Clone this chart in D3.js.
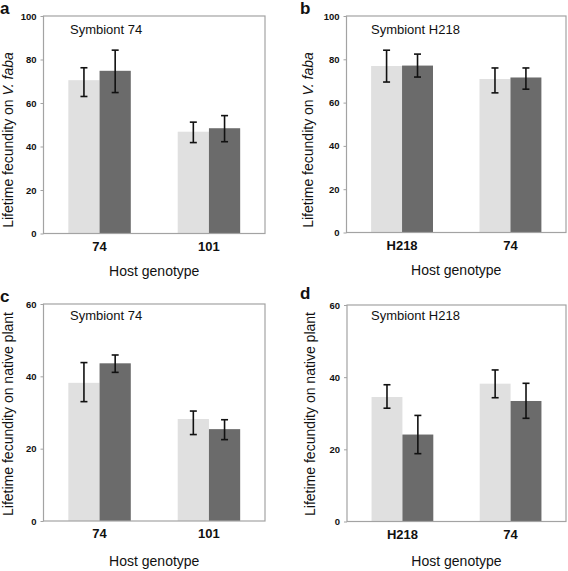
<!DOCTYPE html>
<html><head><meta charset="utf-8">
<script src="https://cdn.jsdelivr.net/npm/d3@7"></script>
<style>body{margin:0;background:#fff}svg{display:block;font-family:"Liberation Sans",Arial,sans-serif}</style>
</head><body><svg id="c" width="568" height="571"></svg>
<script>
// ---- data ----
const panelLetters = ["a","b","c","d"];
const symbionts = ["Symbiont 74","Symbiont H218","Symbiont 74","Symbiont H218"];
const hostsA = ["74","101"];
const hostsB = ["H218","74"];
const yTitleTop = "Lifetime fecundity on ";
const yTitleBottom = "Lifetime fecundity on native plant";
const xTitle = "Host genotype";
const ticksTop = [0,20,40,60,80,100];
const ticksBottom = [0,20,40,60];
// values: [light, dark] per host
const meanA = [[70.5,74.8],[46.8,48.4]];
const loA   = [[63.0,64.8],[41.8,42.2]];
const hiA   = [[76.2,84.3],[51.2,54.2]];
const meanB = [[76.9,77.1],[70.9,71.6]];
const loB   = [[69.5,71.8],[64.5,66.2]];
const hiB   = [[84.2,82.4],[76.0,76.0]];
const meanC = [[38.2,43.6],[28.2,25.4]];
const loC   = [[33.0,41.1],[23.9,22.5]];
const hiC   = [[43.8,45.9],[30.4,28.0]];
const meanD = [[34.5,24.1],[38.2,33.4]];
const loD   = [[31.4,18.8],[34.3,28.6]];
const hiD   = [[37.9,29.4],[42.0,38.3]];

const colors = ["#e0e0e0","#6b6b6b"];

const panels = [
  {letter:panelLetters[0], sym:symbionts[0], hosts:hostsA, mean:meanA, lo:loA, hi:hiA, ticks:ticksTop, ymax:100, top:true,
   frame:{l:43.5,t:16,r:265,b:233.5}, lx:0, ly:14, tx:12.5, ty:140, sx:70, sy:34, xt:42},
  {letter:panelLetters[1], sym:symbionts[1], hosts:hostsB, mean:meanB, lo:loB, hi:hiB, ticks:ticksTop, ymax:100, top:true,
   frame:{l:346.5,t:16,r:566,b:232.5}, lx:300, ly:14, tx:313, ty:140, sx:371, sy:34, xt:42},
  {letter:panelLetters[2], sym:symbionts[2], hosts:hostsA, mean:meanC, lo:loC, hi:hiC, ticks:ticksBottom, ymax:60, top:false,
   frame:{l:43.5,t:304,r:265,b:521}, lx:0, ly:302, tx:12.5, ty:414, sx:70, sy:320, xt:44.5},
  {letter:panelLetters[3], sym:symbionts[3], hosts:hostsB, mean:meanD, lo:loD, hi:hiD, ticks:ticksBottom, ymax:60, top:false,
   frame:{l:347,t:305,r:566,b:521.5}, lx:300, ly:299, tx:315, ty:414, sx:371, sy:320, xt:44.5}
];

const svg = d3.select("#c");

panels.forEach(p => {
  const f = p.frame;
  const g = svg.append("g");
  const x = d3.scaleBand().domain(p.hosts).range([f.l, f.r]).paddingInner(0.429).paddingOuter(0.227);
  const xs = d3.scaleBand().domain([0,1]).range([0, x.bandwidth()]);
  const y = d3.scaleLinear().domain([0, p.ymax]).range([f.b, f.t]);

  // bars
  p.hosts.forEach((h, i) => {
    [0,1].forEach(k => {
      g.append("rect")
        .attr("x", x(h) + xs(k)).attr("width", xs.bandwidth())
        .attr("y", y(p.mean[i][k])).attr("height", y(0) - y(p.mean[i][k]))
        .attr("fill", colors[k]);
    });
  });

  // frame
  g.append("rect").attr("x", f.l).attr("y", f.t).attr("width", f.r - f.l).attr("height", f.b - f.t)
    .attr("fill", "none").attr("stroke", "#a3a3a3").attr("stroke-width", 1.2);

  // error bars
  p.hosts.forEach((h, i) => {
    [0,1].forEach(k => {
      const cx = x(h) + xs(k) + xs.bandwidth()/2;
      const eg = g.append("g").attr("stroke", "#111").attr("stroke-width", 1.6);
      eg.append("line").attr("x1", cx).attr("x2", cx).attr("y1", y(p.lo[i][k])).attr("y2", y(p.hi[i][k]));
      [p.lo[i][k], p.hi[i][k]].forEach(v => {
        eg.append("line").attr("x1", cx - 3.5).attr("x2", cx + 3.5).attr("y1", y(v)).attr("y2", y(v));
      });
    });
  });

  // y axis
  const ya = d3.axisLeft(y).tickValues(p.ticks).tickSize(3).tickPadding(4);
  const yg = g.append("g").attr("transform", `translate(${f.l},0)`).call(ya);
  yg.select(".domain").remove();
  yg.selectAll("line").attr("stroke", "#a3a3a3");
  yg.selectAll("text").attr("font-size", 9.5).attr("font-weight", "bold").attr("fill", "#111")
    .attr("font-family", "Liberation Sans, Arial, sans-serif");

  // x axis labels
  const xa = d3.axisBottom(x).tickSize(0).tickPadding(8);
  const xg = g.append("g").attr("transform", `translate(0,${f.b})`).call(xa);
  xg.select(".domain").remove();
  xg.selectAll("text").attr("font-size", 13).attr("font-weight", "bold").attr("fill", "#111")
    .attr("font-family", "Liberation Sans, Arial, sans-serif");

  // x title
  g.append("text").attr("x", (f.l + f.r)/2).attr("y", f.b + p.xt).attr("text-anchor", "middle")
    .attr("font-size", 14).attr("fill", "#111").text(xTitle);

  // y title
  const yt = g.append("text").attr("transform", `translate(${p.tx},${p.ty}) rotate(-90)`)
    .attr("text-anchor", "middle").attr("font-size", 14).attr("fill", "#111");
  if (p.top) {
    yt.append("tspan").text(yTitleTop);
    yt.append("tspan").attr("font-style", "italic").text("V. faba");
  } else {
    yt.text(yTitleBottom);
  }

  // symbiont label
  g.append("text").attr("x", p.sx).attr("y", p.sy).attr("font-size", 13).attr("fill", "#111").text(p.sym);

  // panel letter
  g.append("text").attr("x", p.lx).attr("y", p.ly).attr("font-size", 17).attr("font-weight", "bold")
    .attr("fill", "#111").text(p.letter);
});
</script></body></html>
